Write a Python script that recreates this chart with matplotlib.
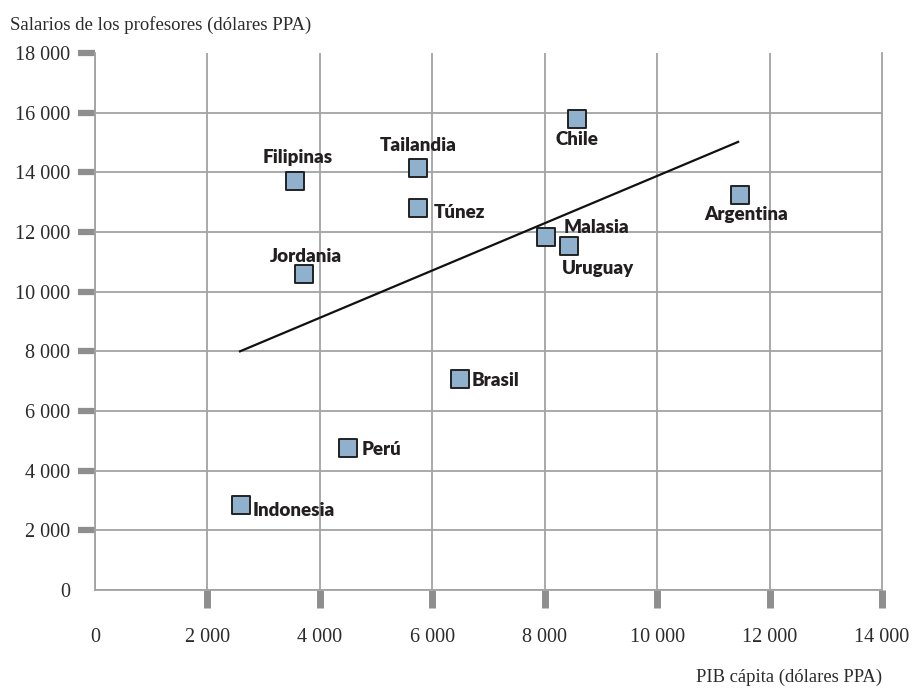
import matplotlib
matplotlib.use("Agg")
import matplotlib.pyplot as plt

countries = ["Filipinas", "Tailandia", "Chile", "Túnez", "Malasia", "Uruguay",
             "Argentina", "Jordania", "Brasil", "Perú", "Indonesia"]
gdp = [3560, 5750, 8580, 5750, 8020, 8430, 11480, 3720, 6500, 4500, 2600]
salary = [13700, 14150, 15800, 12800, 11830, 11530, 13240, 10590, 7070, 4760, 2850]

trend_x = [2580, 11440]
trend_y = [8000, 15020]

x_ticks = [0, 2000, 4000, 6000, 8000, 10000, 12000, 14000]
x_labels = ["0", "2 000", "4 000", "6 000", "8 000", "10 000", "12 000", "14 000"]
y_ticks = [0, 2000, 4000, 6000, 8000, 10000, 12000, 14000, 16000, 18000]
y_labels = ["0", "2 000", "4 000", "6 000", "8 000", "10 000", "12 000", "14 000", "16 000", "18 000"]

# label placement: (dx, dy in points, ha)
label_pos = {
    "Filipinas": (2, 17, "center"),
    "Tailandia": (0, 16, "center"),
    "Chile": (0, -15, "center"),
    "Túnez": (11, -3, "left"),
    "Malasia": (13, 7, "left"),
    "Uruguay": (21, -16, "center"),
    "Argentina": (4, -14, "center"),
    "Jordania": (1, 13, "center"),
    "Brasil": (8, -1, "left"),
    "Perú": (10, -1, "left"),
    "Indonesia": (8, -4, "left"),
}

fig = plt.figure(figsize=(9.15, 6.88), dpi=100)
ax = fig.add_axes([95/915, 1-590/688, (882-95)/915, (590-53)/688])

grid_c = "#a3a3a3"
tick_c = "#8e8e8e"
text_c = "#2b2b2b"
serif = ["Liberation Serif", "DejaVu Serif"]

ax.set_xlim(0, 14000)
ax.set_ylim(0, 18000)
ax.set_xticks(x_ticks)
ax.set_xticklabels(x_labels, family=serif, fontsize=14.5, color=text_c)
ax.set_yticks(y_ticks)
ax.set_yticklabels(y_labels, family=serif, fontsize=14.5, color=text_c)

ax.grid(True, color=grid_c, lw=1.3)
ax.set_axisbelow(True)
for s in ["left", "bottom", "right"]:
    ax.spines[s].set_color(grid_c)
    ax.spines[s].set_linewidth(1.3)
ax.spines["top"].set_visible(False)

ax.tick_params(axis="x", direction="out", length=13, width=5, color=tick_c, pad=14)
ax.tick_params(axis="y", direction="out", length=12, width=4.5, color=tick_c, pad=6)

xt = ax.xaxis.get_major_ticks()
yt = ax.yaxis.get_major_ticks()
xt[0].tick1line.set_visible(False)
yt[0].tick1line.set_visible(False)
yt[-1].gridline.set_visible(False)
xt[-1].gridline.set_visible(False)

ax.plot(trend_x, trend_y, color="#111111", lw=1.6, zorder=3)
ax.scatter(gdp, salary, marker="s", s=150, facecolor="#8fb1cd",
           edgecolor="#222222", linewidth=1.4, zorder=4)

for c, x, y in zip(countries, gdp, salary):
    dx, dy, ha = label_pos[c]
    ax.annotate(c, (x, y), xytext=(dx, dy), textcoords="offset points",
                ha=ha, va="center", fontsize=13.5, fontweight="heavy",
                family=["Lato", "DejaVu Sans"], color="#231f20", zorder=5)

fig.text(10/915, 1-25/688, "Salarios de los profesores (dólares PPA)",
         family=serif, fontsize=13.5, color=text_c, ha="left", va="center")
fig.text(882/915, 1-677/688, "PIB cápita (dólares PPA)",
         family=serif, fontsize=13.4, color=text_c, ha="right", va="center")

fig.savefig("out.png", dpi=100)
